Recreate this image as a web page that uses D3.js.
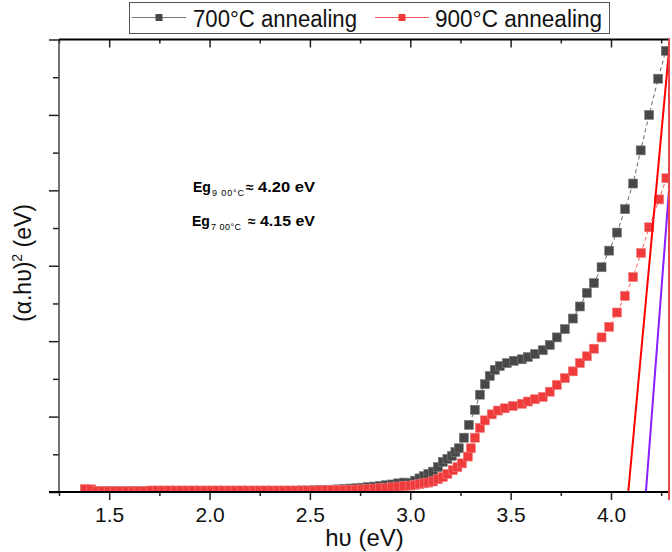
<!DOCTYPE html>
<html>
<head>
<meta charset="utf-8">
<script src="https://cdn.jsdelivr.net/npm/d3@7"></script>
<style>
  body { margin: 0; background: #fff; }
  text { font-family: "Liberation Sans", Arial, sans-serif; }
</style>
</head>
<body>
<div id="chart"></div>
<script>
// 700°C annealing
const hv700 = [1.38, 1.41, 1.44, 1.47, 1.50, 1.53, 1.56, 1.59, 1.62, 1.65, 1.68, 1.71, 1.74, 1.77, 1.80, 1.83,
  1.86, 1.89, 1.92, 1.95, 1.98, 2.01, 2.04, 2.07, 2.10, 2.13, 2.16, 2.19, 2.22, 2.25, 2.28, 2.31, 2.34, 2.37, 2.40,
  2.43, 2.46, 2.49, 2.52, 2.55, 2.58, 2.61, 2.64, 2.67, 2.70, 2.73, 2.76, 2.79, 2.82, 2.85, 2.88, 2.91, 2.94, 2.97,
  3.00, 3.023, 3.046, 3.068, 3.09, 3.113, 3.138, 3.162, 3.185, 3.207, 3.225, 3.242, 3.267, 3.292, 3.322, 3.347,
  3.372, 3.396, 3.421, 3.446, 3.481, 3.516, 3.556, 3.586, 3.621, 3.660, 3.695, 3.730, 3.770, 3.810, 3.845, 3.880,
  3.915, 3.953, 3.991, 4.030, 4.070, 4.110, 4.148, 4.190, 4.235, 4.273];
const abs700 = [0.02, 0.02, 0.01, 0.01, 0.01, 0.01, 0.01, 0.01, 0.01, 0.01, 0.01, 0.01, 0.01, 0.01, 0.01, 0.01,
  0.01, 0.01, 0.01, 0.01, 0.01, 0.01, 0.01, 0.01, 0.01, 0.01, 0.01, 0.01, 0.01, 0.01, 0.01, 0.01, 0.01, 0.01, 0.01,
  0.015, 0.02, 0.02, 0.022, 0.025, 0.028, 0.03, 0.035, 0.04, 0.045, 0.05, 0.057, 0.065, 0.072, 0.08, 0.09, 0.10, 0.115, 0.125,
  0.12, 0.15, 0.18, 0.21, 0.24, 0.27, 0.33, 0.40, 0.44, 0.48, 0.53, 0.58, 0.72, 0.89, 1.09, 1.29,
  1.43, 1.54, 1.62, 1.67, 1.71, 1.74, 1.76, 1.79, 1.83, 1.88, 1.95, 2.05, 2.16, 2.30, 2.46, 2.64,
  2.77, 2.98, 3.20, 3.44, 3.75, 4.09, 4.53, 5.00, 5.48, 5.85];

// 900°C annealing
const hv900 = [1.38, 1.41, 1.44, 1.47, 1.50, 1.53, 1.56, 1.59, 1.62, 1.65, 1.68, 1.71, 1.74, 1.77, 1.80, 1.83,
  1.86, 1.89, 1.92, 1.95, 1.98, 2.01, 2.04, 2.07, 2.10, 2.13, 2.16, 2.19, 2.22, 2.25, 2.28, 2.31, 2.34, 2.37, 2.40,
  2.43, 2.46, 2.49, 2.52, 2.55, 2.58, 2.61, 2.64, 2.67, 2.70, 2.73, 2.76, 2.79, 2.82, 2.85, 2.88, 2.91, 2.94, 2.97,
  3.00, 3.023, 3.046, 3.068, 3.09, 3.113, 3.138, 3.162, 3.185, 3.212, 3.235, 3.257, 3.287, 3.302, 3.322, 3.347,
  3.372, 3.406, 3.436, 3.471, 3.511, 3.556, 3.586, 3.621, 3.660, 3.695, 3.730, 3.770, 3.810, 3.845, 3.880,
  3.915, 3.953, 3.991, 4.030, 4.069, 4.110, 4.150, 4.190, 4.240, 4.276];
const abs900 = [0.04, 0.035, 0.015, 0.01, 0.01, 0.01, 0.01, 0.01, 0.01, 0.01, 0.01, 0.02, 0.02, 0.02, 0.02, 0.02,
  0.02, 0.02, 0.02, 0.02, 0.02, 0.02, 0.02, 0.02, 0.02, 0.02, 0.02, 0.02, 0.02, 0.02, 0.02, 0.02, 0.02, 0.02, 0.02,
  0.02, 0.02, 0.02, 0.02, 0.022, 0.024, 0.025, 0.027, 0.029, 0.03, 0.032, 0.035, 0.04, 0.045, 0.05, 0.056, 0.064, 0.072, 0.08,
  0.085, 0.095, 0.105, 0.115, 0.125, 0.14, 0.17, 0.20, 0.24, 0.29, 0.33, 0.38, 0.47, 0.58, 0.72, 0.85,
  0.95, 1.03, 1.08, 1.11, 1.14, 1.17, 1.20, 1.23, 1.26, 1.33, 1.42, 1.51, 1.60, 1.71, 1.80,
  1.90, 2.05, 2.19, 2.38, 2.60, 2.85, 3.17, 3.51, 3.88, 4.16];

// Tauc fit lines (end points)
const fit700Hv = [4.086, 4.294];
const fit700Val = [0, 6.0];
const fit900Hv = [4.174, 4.294];
const fit900Val = [0, 4.175];

const xMajor = [1.5, 2.0, 2.5, 3.0, 3.5, 4.0];
const xMinor = [1.25, 1.75, 2.25, 2.75, 3.25, 3.75, 4.25];
const yMajor = [0, 1, 2, 3, 4, 5, 6];
const yMinor = [0.5, 1.5, 2.5, 3.5, 4.5, 5.5];

const width = 672;
const height = 552;
const margin = { top: 39.5, right: 2, bottom: 60, left: 59 };

const svg = d3.select("#chart")
  .append("svg")
  .attr("width", width)
  .attr("height", height);

const x = d3.scaleLinear().domain([1.25, 4.294]).range([margin.left, width - margin.right]);
const y = d3.scaleLinear().domain([0, 6]).range([height - margin.bottom, margin.top]);

svg.append("clipPath").attr("id", "plot")
  .append("rect")
  .attr("x", x(1.25)).attr("y", y(6))
  .attr("width", x(4.294) - x(1.25)).attr("height", y(0) - y(6));

const plot = svg.append("g").attr("clip-path", "url(#plot)");

const series = [
  { hv: hv700, val: abs700, fill: "#484848", stroke: "#7a7a7a", line: "#666" },
  { hv: hv900, val: abs900, fill: "#ef3b3b", stroke: "#f27a7a", line: "#f25a5a" }
];

const line = d3.line().x(d => x(d[0])).y(d => y(d[1]));

series.forEach(s => {
  const pts = s.hv.map((h, i) => [h, s.val[i]]);
  plot.append("path")
    .datum(pts)
    .attr("d", line)
    .attr("fill", "none")
    .attr("stroke", s.line)
    .attr("stroke-width", 1)
    .attr("stroke-dasharray", "4,3");
  plot.selectAll(null)
    .data(pts)
    .enter()
    .append("rect")
    .attr("x", d => x(d[0]) - 4.5)
    .attr("y", d => y(d[1]) - 4.5)
    .attr("width", 9)
    .attr("height", 9)
    .attr("fill", s.fill)
    .attr("stroke", s.stroke)
    .attr("stroke-width", 0.6);
});

// fit lines
[[fit700Hv, fit700Val, "#ff0000"], [fit900Hv, fit900Val, "#8b1cff"]].forEach(f => {
  plot.append("line")
    .attr("x1", x(f[0][0])).attr("y1", y(f[1][0]))
    .attr("x2", x(f[0][1])).attr("y2", y(f[1][1]))
    .attr("stroke", f[2])
    .attr("stroke-width", 2);
});

// axes
const noLabel = () => "";

const xAxisBottom = svg.append("g").attr("transform", `translate(0,${y(0)})`);
xAxisBottom.call(d3.axisBottom(x).tickValues(xMajor).tickSize(8).tickPadding(7).tickFormat(d3.format(".1f")));
xAxisBottom.call(g => g.selectAll("text").attr("font-size", 21).attr("fill", "#111").attr("font-family", null));
xAxisBottom.append("g").call(d3.axisBottom(x).tickValues(xMinor).tickSize(4).tickFormat(noLabel));

const xAxisTop = svg.append("g").attr("transform", `translate(0,${y(6)})`);
xAxisTop.call(d3.axisTop(x).tickValues(xMajor).tickSize(-8).tickFormat(noLabel));
xAxisTop.append("g").call(d3.axisTop(x).tickValues(xMinor).tickSize(-4).tickFormat(noLabel));

const yAxisLeft = svg.append("g").attr("transform", `translate(${x(1.25)},0)`);
yAxisLeft.call(d3.axisLeft(y).tickValues(yMajor).tickSize(10).tickFormat(noLabel));
yAxisLeft.append("g").call(d3.axisLeft(y).tickValues(yMinor).tickSize(6).tickFormat(noLabel));

svg.selectAll(".domain").remove();
svg.selectAll(".tick line").attr("stroke", "#222").attr("stroke-width", 1.5);

// frame
svg.append("line").attr("x1", x(1.25)).attr("x2", x(1.25)).attr("y1", y(6)).attr("y2", y(0) + 1)
  .attr("stroke", "#444").attr("stroke-width", 1.5);
svg.append("line").attr("x1", x(1.25) - 10).attr("x2", x(4.294)).attr("y1", y(0)).attr("y2", y(0))
  .attr("stroke", "#000").attr("stroke-width", 2);
svg.append("line").attr("x1", x(1.25)).attr("x2", x(4.294)).attr("y1", y(6)).attr("y2", y(6))
  .attr("stroke", "#000").attr("stroke-width", 2);
svg.append("line").attr("x1", x(4.294) - 1).attr("x2", x(4.294) - 1).attr("y1", y(6) - 1).attr("y2", y(0) + 8)
  .attr("stroke", "#e8474d").attr("stroke-width", 2);

// axis titles
svg.append("text")
  .attr("x", (x(1.25) + x(4.294)) / 2)
  .attr("y", 546)
  .attr("text-anchor", "middle")
  .attr("font-size", 24)
  .attr("fill", "#111")
  .text("hυ (eV)");

const yTitle = svg.append("text")
  .attr("transform", "translate(31,263) rotate(-90)")
  .attr("text-anchor", "middle")
  .attr("font-size", 23)
  .attr("fill", "#111");
yTitle.append("tspan").text("(α.hυ)");
yTitle.append("tspan").attr("font-size", 14).attr("dy", -9).text("2");
yTitle.append("tspan").attr("dy", 9).text(" (eV)");

// band gap notes
const notes = [
  { sub: "9 00°C", val: "4.20 eV", x: 193, y: 191.5, subLen: 32, valX: 258, valLen: 57 },
  { sub: "7 00°C", val: "4.15 eV", x: 192, y: 225.5, subLen: 30, valX: 260, valLen: 55 }
];
notes.forEach(n => {
  svg.append("text").attr("x", n.x).attr("y", n.y).attr("font-size", 14).attr("font-weight", "bold").text("Eg");
  svg.append("text").attr("x", n.x + 19).attr("y", n.y + 4).attr("font-size", 9)
    .attr("textLength", n.subLen).attr("lengthAdjust", "spacing").text(n.sub);
  svg.append("text").attr("x", n.valX - 12).attr("y", n.y).attr("font-size", 14).attr("font-weight", "bold").text("≈");
  svg.append("text").attr("x", n.valX).attr("y", n.y).attr("font-size", 14.5).attr("font-weight", "bold")
    .attr("textLength", n.valLen).attr("lengthAdjust", "spacingAndGlyphs").text(n.val);
});

// legend
const legend = svg.append("g");
legend.append("rect")
  .attr("x", 129.5).attr("y", 2.5).attr("width", 480).attr("height", 31)
  .attr("fill", "#fff").attr("stroke", "#555").attr("stroke-width", 1);

const legendItems = [
  { label: "700°C annealing", x0: 132, fill: "#484848", line: "#777", tx: 193, len: 164 },
  { label: "900°C annealing", x0: 375, fill: "#ef3b3b", line: "#f05a5a", tx: 435, len: 167 }
];
legendItems.forEach(d => {
  legend.append("line").attr("x1", d.x0).attr("x2", d.x0 + 54).attr("y1", 17.5).attr("y2", 17.5)
    .attr("stroke", d.line).attr("stroke-width", 1);
  legend.append("rect").attr("x", d.x0 + 23.5).attr("y", 14).attr("width", 7).attr("height", 7).attr("fill", d.fill);
  legend.append("text").attr("x", d.tx).attr("y", 26.5).attr("font-size", 23).attr("fill", "#111")
    .attr("textLength", d.len).attr("lengthAdjust", "spacingAndGlyphs").text(d.label);
});
</script>
</body>
</html>
